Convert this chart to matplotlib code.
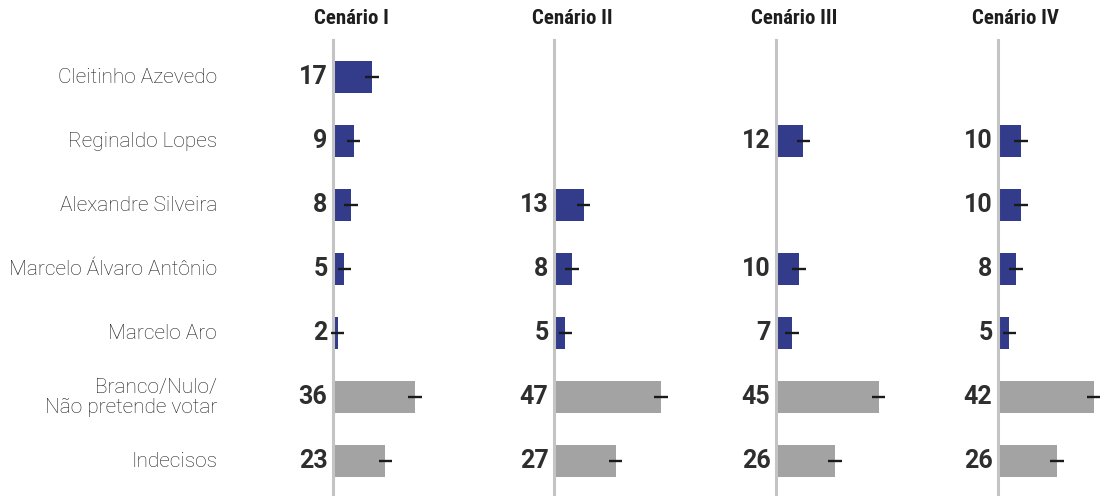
import matplotlib
matplotlib.use("Agg")
import matplotlib.pyplot as plt
import matplotlib.transforms as mtransforms
from matplotlib import font_manager
import numpy as np

# ---- data ----
candidates = ["Cleitinho Azevedo", "Reginaldo Lopes", "Alexandre Silveira",
              "Marcelo Álvaro Antônio", "Marcelo Aro",
              "Branco/Nulo/\nNão pretende votar", "Indecisos"]
scenarios = ["Cenário I", "Cenário II", "Cenário III", "Cenário IV"]
cenario_1 = [17, 9, 8, 5, 2, 36, 23]
cenario_2 = [None, None, 13, 8, 5, 47, 27]
cenario_3 = [None, 12, None, 10, 7, 45, 26]
cenario_4 = [None, 10, 10, 8, 5, 42, 26]
margin_error = 3
values = [cenario_1, cenario_2, cenario_3, cenario_4]

# ---- style ----
names = {f.name for f in font_manager.fontManager.ttflist}
cond = "Roboto Condensed" if "Roboto Condensed" in names else "Roboto"
BLUE = "#333c8b"
GRAY = "#a3a3a3"
W, H = 1100, 496
fig = plt.figure(figsize=(W / 100, H / 100), dpi=100)

px_per_unit = 2.28
axis_px = [333, 554, 776, 998]
ax_w_px = 110
top_px = 40
row0_px, row_step = 77, 64
y_top = (row0_px - top_px) / row_step
y_bot = (H - row0_px) / row_step

axes = []
for k, (name, vals) in enumerate(zip(scenarios, values)):
    ax = fig.add_axes([axis_px[k] / W, 0, ax_w_px / W, (H - top_px) / H])
    axes.append(ax)
    ax.set_xlim(0, ax_w_px / px_per_unit)
    ax.set_ylim(y_bot, -y_top)
    for s in ["top", "right", "bottom"]:
        ax.spines[s].set_visible(False)
    ax.spines["left"].set_color("#c4c4c4")
    ax.spines["left"].set_linewidth(2.2)
    ax.set_xticks([])
    ax.set_yticks([])
    ax.patch.set_alpha(0)
    for i, v in enumerate(vals):
        if v is None:
            continue
        color = GRAY if i >= 5 else BLUE
        ax.barh(i, v, height=0.5, color=color, zorder=2)
        ax.errorbar(v, i, xerr=margin_error, fmt="none", ecolor="#1a1a1a",
                    elinewidth=1.7, capsize=0, zorder=3, clip_on=False)
        ax.annotate(str(v), xy=(0, i), xytext=(-4, 0), textcoords="offset points",
                    ha="right", va="center", fontsize=18, fontweight="bold",
                    family="Roboto", color="#2e2e2e")
    fig.text((axis_px[k] + 18) / W, 1 - 19 / H, name, ha="center", va="center",
             fontsize=15, fontweight="bold", family=cond, color="#1e1e1e")

tr = mtransforms.blended_transform_factory(fig.transFigure, axes[0].transData)
for i, lab in enumerate(candidates):
    fig.text(217 / W, i + 0.01, lab, transform=tr, ha="right", va="center",
             fontsize=15, family="Roboto", fontweight="light",
             color="#1f1f1f", linespacing=1.05)

fig.savefig("out.png", dpi=100)
